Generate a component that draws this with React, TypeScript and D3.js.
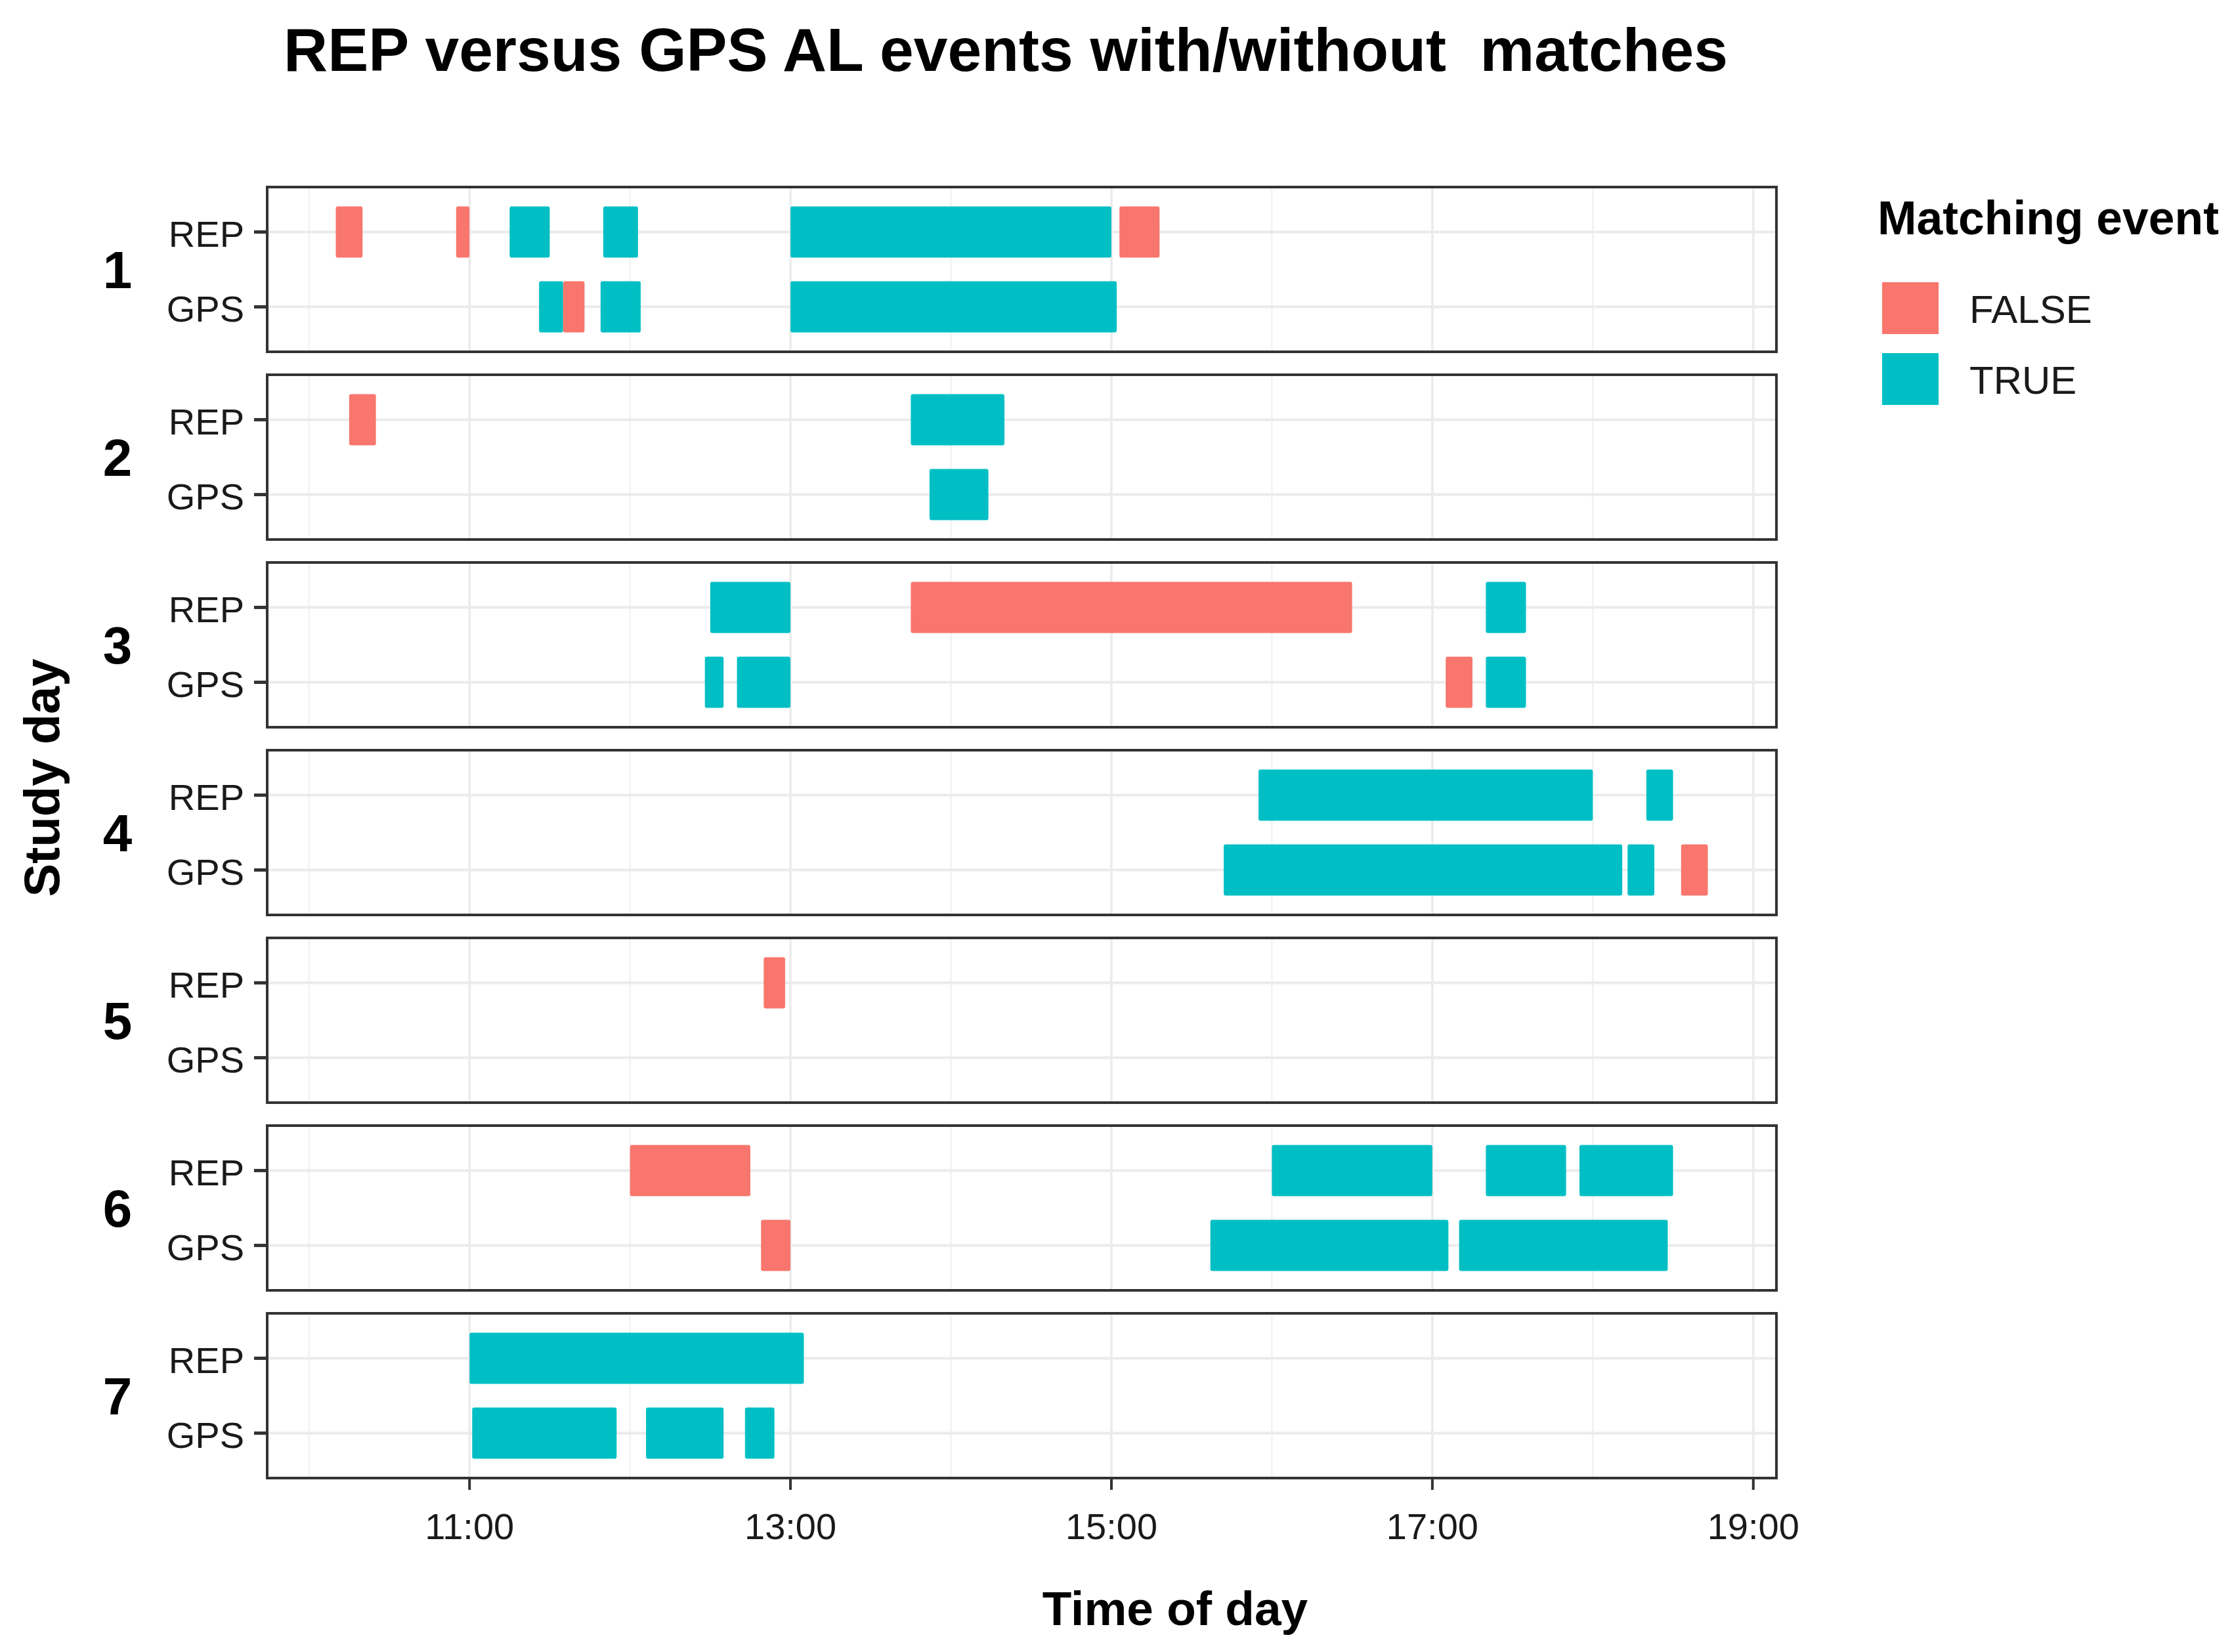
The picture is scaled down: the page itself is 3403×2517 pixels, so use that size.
import * as d3 from 'd3';

// events per study day and source: [start, end, matched]
type Ev = [string, string, boolean];

const days = ['1', '2', '3', '4', '5', '6', '7'];
const sources = ['REP', 'GPS'];

const repEvents: Ev[][] = [
  [['10:10', '10:20', false], ['10:55', '11:00', false], ['11:15', '11:30', true], ['11:50', '12:03', true], ['13:00', '15:00', true], ['15:03', '15:18', false]],
  [['10:15', '10:25', false], ['13:45', '14:20', true]],
  [['12:30', '13:00', true], ['13:45', '16:30', false], ['17:20', '17:35', true]],
  [['15:55', '18:00', true], ['18:20', '18:30', true]],
  [['12:50', '12:58', false]],
  [['12:00', '12:45', false], ['16:00', '17:00', true], ['17:20', '17:50', true], ['17:55', '18:30', true]],
  [['11:00', '13:05', true]],
];

const gpsEvents: Ev[][] = [
  [['11:26', '11:35', true], ['11:35', '11:43', false], ['11:49', '12:04', true], ['13:00', '15:02', true]],
  [['13:52', '14:14', true]],
  [['12:28', '12:35', true], ['12:40', '13:00', true], ['17:05', '17:15', false], ['17:20', '17:35', true]],
  [['15:42', '18:11', true], ['18:13', '18:23', true], ['18:33', '18:43', false]],
  [],
  [['12:49', '13:00', false], ['15:37', '17:06', true], ['17:10', '18:28', true]],
  [['11:01', '11:55', true], ['12:06', '12:35', true], ['12:43', '12:54', true]],
];

const majorHours = [11, 13, 15, 17, 19];
const minorHours = [10, 12, 14, 16, 18];
const legendLabels = ['FALSE', 'TRUE'];

const W = 3403;
const H = 2517;
const font = '"Liberation Sans", Arial, Helvetica, sans-serif';

const toHours = (s: string) => {
  const [h, m] = s.split(':').map(Number);
  return h + m / 60;
};

export default function App() {
  const left = 407;
  const right = 2706;
  const top = 285;
  const panelH = 251;
  const gap = 35;

  const rows = days.flatMap((day, i) => [
    ...repEvents[i].map((e) => ({ day, src: 'REP', start: toHours(e[0]), end: toHours(e[1]), match: e[2] })),
    ...gpsEvents[i].map((e) => ({ day, src: 'GPS', start: toHours(e[0]), end: toHours(e[1]), match: e[2] })),
  ]);

  // ggplot-style 5% expansion around the data range
  const lo = d3.min(rows, (d) => d.start) as number;
  const hi = d3.max(rows, (d) => d.end) as number;
  const pad = (hi - lo) * 0.05;
  const x = d3.scaleLinear().domain([lo - pad, hi + pad]).range([left, right]);

  const color = d3
    .scaleOrdinal<string>()
    .domain(legendLabels)
    .range(['#F8766D', '#00BFC4']);

  const panelY = d3
    .scaleBand()
    .domain(days)
    .range([top, top + days.length * panelH + (days.length - 1) * gap])
    .paddingInner(gap / (panelH + gap));

  const barH = 78;
  const bottom = (panelY('7') as number) + panelH;

  return (
    <svg
      width={W}
      height={H}
      style={{ position: 'absolute', left: 0, top: 0, background: '#fff' }}
      fontFamily={font}
    >
      <text x={1532} y={108} fontSize={93} fontWeight="bold" textAnchor="middle" style={{ whiteSpace: 'pre' }}>
        {'REP versus GPS AL events with/without  matches'}
      </text>

      {days.map((day) => {
        const py = panelY(day) as number;
        const y = d3.scalePoint<string>().domain(sources).range([py, py + panelH]).padding(0.6);
        const panelRows = rows.filter((r) => r.day === day);
        return (
          <g key={day}>
            <rect x={left} y={py} width={right - left} height={panelH} fill="#fff" />
            {minorHours.map((h) => (
              <line key={'m' + h} x1={x(h)} x2={x(h)} y1={py} y2={py + panelH} stroke="#f2f2f2" strokeWidth={2.5} />
            ))}
            {majorHours.map((h) => (
              <line key={'M' + h} x1={x(h)} x2={x(h)} y1={py} y2={py + panelH} stroke="#ebebeb" strokeWidth={3.5} />
            ))}
            {sources.map((s) => (
              <line key={s} x1={left} x2={right} y1={y(s)} y2={y(s)} stroke="#ebebeb" strokeWidth={4} />
            ))}
            {panelRows.map((r, j) => (
              <rect
                key={j}
                x={x(r.start)}
                y={(y(r.src) as number) - barH / 2}
                width={x(r.end) - x(r.start)}
                height={barH}
                rx={3}
                fill={color(r.match ? 'TRUE' : 'FALSE')}
              />
            ))}
            <rect x={left} y={py} width={right - left} height={panelH} fill="none" stroke="#333" strokeWidth={4} />
            {sources.map((s) => (
              <g key={'t' + s}>
                <line x1={left - 20} x2={left} y1={y(s)} y2={y(s)} stroke="#333" strokeWidth={5} />
                <text x={372} y={(y(s) as number) + 2} dy="0.36em" fontSize={56} textAnchor="end" fill="#1a1a1a">
                  {s}
                </text>
              </g>
            ))}
            <text x={179} y={py + panelH / 2} dy="0.36em" fontSize={80} fontWeight="bold" textAnchor="middle">
              {day}
            </text>
          </g>
        );
      })}

      {majorHours.map((h) => (
        <g key={'xt' + h}>
          <line x1={x(h)} x2={x(h)} y1={bottom} y2={bottom + 18} stroke="#333" strokeWidth={4} />
          <text x={x(h)} y={2345} fontSize={56} textAnchor="middle" fill="#1a1a1a">
            {d3.format('02')(h)}:00
          </text>
        </g>
      ))}

      <text x={1790} y={2476} fontSize={73} fontWeight="bold" textAnchor="middle">
        Time of day
      </text>
      <text transform="translate(90,1185) rotate(-90)" fontSize={76} fontWeight="bold" textAnchor="middle">
        Study day
      </text>

      <text x={2860} y={357} fontSize={72} fontWeight="bold" textLength={520} lengthAdjust="spacingAndGlyphs">
        Matching event
      </text>
      {legendLabels.map((l, i) => (
        <g key={l}>
          <rect x={2867} y={430 + i * 108} width={86} height={79} fill={color(l)} />
          <text x={3000} y={470 + i * 108} dy="0.36em" fontSize={60} fill="#1a1a1a">
            {l}
          </text>
        </g>
      ))}
    </svg>
  );
}
